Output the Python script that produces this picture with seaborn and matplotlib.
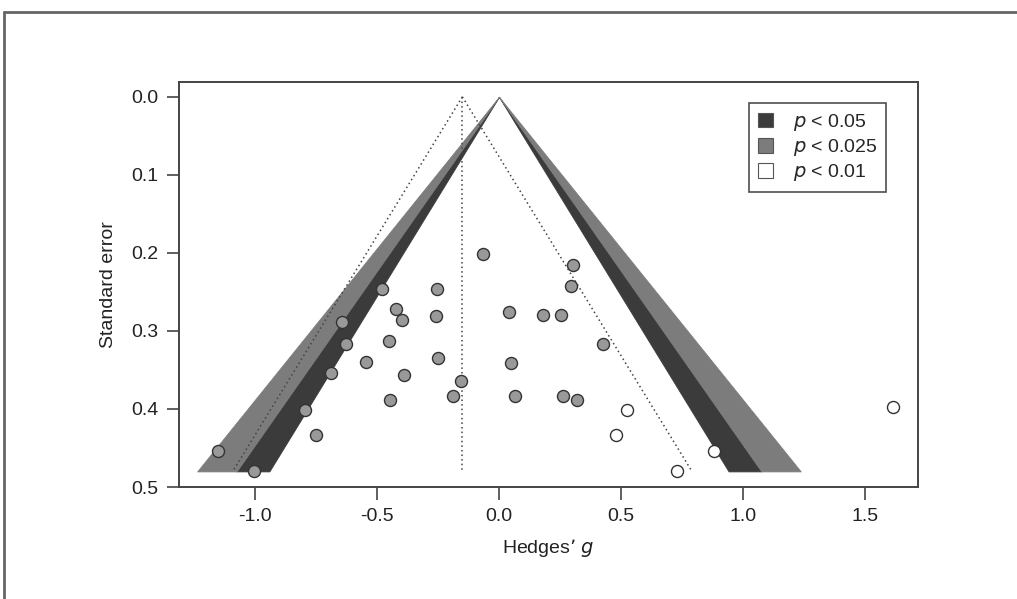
import seaborn as sns
import matplotlib.pyplot as plt
from matplotlib.lines import Line2D
from matplotlib.patches import Patch
import pandas as pd
import numpy as np

# Effect sizes (Hedges' g) and standard errors
g_filled = [-0.066, -0.48, -0.254, -0.422, -0.397, -0.258, 0.041, -0.643, -0.451, -0.627,
            -0.545, -0.25, 0.049, -0.689, -0.389, -0.156, -0.188, -0.447, 0.066, -0.795,
            -0.75, -1.152, -1.004, 0.303, 0.295, 0.18, 0.254, 0.426, 0.262, 0.318]
se_filled = [0.202, 0.246, 0.246, 0.272, 0.286, 0.281, 0.276, 0.289, 0.313, 0.317,
             0.340, 0.335, 0.341, 0.354, 0.357, 0.364, 0.384, 0.388, 0.384, 0.401,
             0.433, 0.454, 0.480, 0.216, 0.243, 0.279, 0.279, 0.317, 0.384, 0.388]
g_open = [0.525, 0.479, 0.88, 0.73, 1.615]
se_open = [0.401, 0.433, 0.454, 0.480, 0.398]

pooled_g = -0.15          # centre of the dotted pseudo-confidence funnel
se_max = 0.48             # funnel drawn down to this standard error
z_levels = [1.96, 2.24, 2.576]   # two-sided p = 0.05, 0.025, 0.01
legend_p = ['0.05', '0.025', '0.01']
band_colors = ['#3b3b3b', '#7c7c7c', '#ffffff']

x_ticks = [-1.0, -0.5, 0.0, 0.5, 1.0, 1.5]
y_ticks = [0.0, 0.1, 0.2, 0.3, 0.4, 0.5]


def generate_chart():
    df = pd.DataFrame({
        'g': g_filled + g_open,
        'se': se_filled + se_open,
        'kind': ['filled'] * len(g_filled) + ['open'] * len(g_open),
    })

    sns.set_style("white")
    plt.rcParams['font.family'] = ['Liberation Sans', 'DejaVu Sans']

    fig = plt.figure(figsize=(10.17, 5.99), dpi=100)
    ax = fig.add_axes([179 / 1017, 1 - 487 / 599, (918 - 179) / 1017, (487 - 82) / 599])

    # contour shading (centred on zero)
    se_grid = np.linspace(0, se_max, 200)
    for lo, hi, col in zip(z_levels[:-1], z_levels[1:], band_colors[:2]):
        for sign in (-1, 1):
            ax.fill_betweenx(se_grid, sign * lo * se_grid, sign * hi * se_grid,
                             color=col, lw=0.6, zorder=1)

    # dotted pseudo-confidence funnel around pooled estimate
    dot = dict(color='#444444', lw=1.1, ls=(0, (1, 2)), zorder=2)
    ax.plot(pooled_g - 1.96 * se_grid, se_grid, **dot)
    ax.plot(pooled_g + 1.96 * se_grid, se_grid, **dot)
    ax.plot([pooled_g, pooled_g], [0, se_max], **dot)

    sns.scatterplot(data=df[df.kind == 'filled'], x='g', y='se', ax=ax,
                    color='#999999', edgecolor='#333333', linewidth=1.0,
                    s=75, zorder=3, legend=False)
    sns.scatterplot(data=df[df.kind == 'open'], x='g', y='se', ax=ax,
                    color='white', edgecolor='#333333', linewidth=1.0,
                    s=75, zorder=3, legend=False)

    ax.set_xlim(-1.311, 1.717)
    ax.set_ylim(0.5, -0.019)
    ax.set_xticks(x_ticks)
    ax.set_xticklabels([f'{v:.1f}' for v in x_ticks])
    ax.set_yticks(y_ticks)
    ax.set_yticklabels([f'{v:.1f}' for v in y_ticks])
    ax.tick_params(axis='both', direction='out', length=9, width=1.2,
                   color='#444444', labelsize=14, labelcolor='#222222', pad=6,
                   bottom=True, left=True)
    for sp in ax.spines.values():
        sp.set_color('#444444')
        sp.set_linewidth(1.4)
        sp.set_visible(True)

    ax.set_xlabel("Hedges\u2019 $\\it{g}$", fontsize=14, color='#222222', labelpad=9)
    ax.set_ylabel('Standard error', fontsize=14, color='#222222', labelpad=10)

    handles = [Patch(facecolor=c, edgecolor='#555555', lw=0.8) for c in band_colors]
    labels = [f'$\\it{{p}}$ < {p}' for p in legend_p]
    leg = ax.legend(handles, labels, loc='upper right',
                    bbox_to_anchor=(886 / 1017, 1 - 103 / 599),
                    bbox_transform=fig.transFigure, borderaxespad=0,
                    fontsize=14, frameon=True, fancybox=False,
                    handlelength=0.8, handleheight=0.8, handletextpad=1.0,
                    labelspacing=0.22, borderpad=0.45)
    leg.get_frame().set_edgecolor('#222222')
    leg.get_frame().set_linewidth(1.2)

    # outer frame of the figure panel
    fig.add_artist(Line2D([4 / 1017, 1], [1 - 12 / 599, 1 - 12 / 599],
                          transform=fig.transFigure, color='#666666', lw=2))
    fig.add_artist(Line2D([4 / 1017, 4 / 1017], [0, 1 - 12 / 599],
                          transform=fig.transFigure, color='#666666', lw=2))

    fig.savefig('out.png', dpi=100)


if __name__ == "__main__":
    generate_chart()
